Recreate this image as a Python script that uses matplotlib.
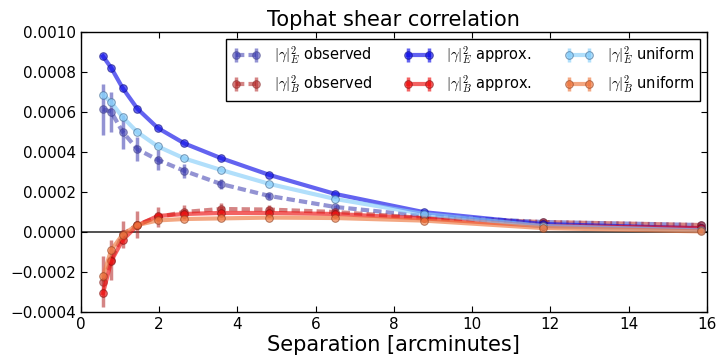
import matplotlib
matplotlib.use("Agg")
import matplotlib.pyplot as plt
from matplotlib.ticker import FuncFormatter, MultipleLocator

# Bin centres of the separation bins (arcmin)
sep = [0.57, 0.78, 1.07, 1.45, 1.97, 2.65, 3.58, 4.82, 6.5, 8.77, 11.8, 15.85]

# E-mode shear correlation
e_obs = [6.13e-4, 6.0e-4, 5.0e-4, 4.13e-4, 3.6e-4, 3.05e-4, 2.4e-4, 1.8e-4, 1.25e-4, 8.0e-5, 5.0e-5, 3.5e-5]
e_obs_err = [1.27e-4, 1.0e-4, 8.5e-5, 6.0e-5, 5.0e-5, 3.3e-5, 2.4e-5, 1.6e-5, 1.2e-5, 9e-6, 7e-6, 5e-6]
e_approx = [8.77e-4, 8.19e-4, 7.19e-4, 6.15e-4, 5.19e-4, 4.42e-4, 3.69e-4, 2.85e-4, 1.9e-4, 9.9e-5, 4.0e-5, 1.8e-5]
e_unif = [6.85e-4, 6.47e-4, 5.73e-4, 4.98e-4, 4.27e-4, 3.67e-4, 3.1e-4, 2.4e-4, 1.65e-4, 9.0e-5, 3.0e-5, 8e-6]

# B-mode shear correlation
b_obs = [-2.47e-4, -1.4e-4, -1.2e-5, 3.7e-5, 7.5e-5, 1.0e-4, 1.15e-4, 1.12e-4, 1.0e-4, 7.0e-5, 5.0e-5, 3.5e-5]
b_obs_err = [1.25e-4, 1.0e-4, 6.7e-5, 6.9e-5, 5.0e-5, 3.5e-5, 3.0e-5, 2.2e-5, 1.5e-5, 1.0e-5, 8e-6, 6e-6]
b_approx = [-3.05e-4, -1.45e-4, -4.0e-5, 3.3e-5, 8.0e-5, 9.0e-5, 9.5e-5, 9.5e-5, 9.0e-5, 6.8e-5, 3.0e-5, 2.0e-5]
b_unif = [-2.2e-4, -9.0e-5, -1.3e-5, 3.5e-5, 5.8e-5, 6.5e-5, 6.8e-5, 7.2e-5, 7.0e-5, 5.7e-5, 2.0e-5, 3e-6]

zeros = [0.0] * len(sep)

plt.rcParams['font.family'] = 'DejaVu Sans'
plt.rcParams['mathtext.fontset'] = 'cm'

fig = plt.figure(figsize=(7.19, 3.57), dpi=100)
ax = fig.add_axes([0.1122, 0.1255, 0.8711, 0.786])

ax.axhline(0, color='#333333', lw=1.2, zorder=1)

short_dash = (0, (2, 1))
series = [
    (e_obs, e_obs_err, short_dash, '#3a3ab0', '#3a3a80', 0.55, r'$|\gamma|^2_E$ observed'),
    (b_obs, b_obs_err, short_dash, '#b22222', '#802020', 0.55, r'$|\gamma|^2_B$ observed'),
    (e_approx, zeros, '-', '#1010e8', '#101080', 0.65, r'$|\gamma|^2_E$ approx.'),
    (b_approx, zeros, '-', '#ee1010', '#801010', 0.65, r'$|\gamma|^2_B$ approx.'),
    (e_unif, zeros, '-', '#87cefa', '#406890', 0.65, r'$|\gamma|^2_E$ uniform'),
    (b_unif, zeros, '-', '#ee7840', '#904020', 0.65, r'$|\gamma|^2_B$ uniform'),
]

for y, err, ls, col, edge, a, label in series:
    ax.errorbar(sep, y, yerr=err, marker='o', ls=ls, color=col, lw=3, ms=5.5,
                mec=edge, mew=0.7, elinewidth=2.5, capsize=0,
                alpha=a, label=label, zorder=2)

ax.set_xlim(0, 16)
ax.set_ylim(-0.0004, 0.0010)
ax.xaxis.set_major_locator(MultipleLocator(2))
ax.yaxis.set_major_locator(MultipleLocator(0.0002))
ax.yaxis.set_major_formatter(FuncFormatter(lambda v, p: f'{v:.4f}'.replace('-', '\u2212')))
ax.tick_params(direction='in', top=True, right=True, length=4, labelsize=11)
for s in ax.spines.values():
    s.set_linewidth(1.0)

ax.set_title("Tophat shear correlation", fontsize=15, pad=4)
ax.set_xlabel("Separation [arcminutes]", fontsize=15, labelpad=2)

leg = ax.legend(loc='upper right', ncol=3, fontsize=10.5, fancybox=False,
                edgecolor='black', framealpha=1, borderaxespad=0.5,
                numpoints=2, handlelength=2.0, columnspacing=2.2,
                handletextpad=0.9)
leg.get_frame().set_linewidth(1.0)

fig.savefig("out.png", dpi=100)
